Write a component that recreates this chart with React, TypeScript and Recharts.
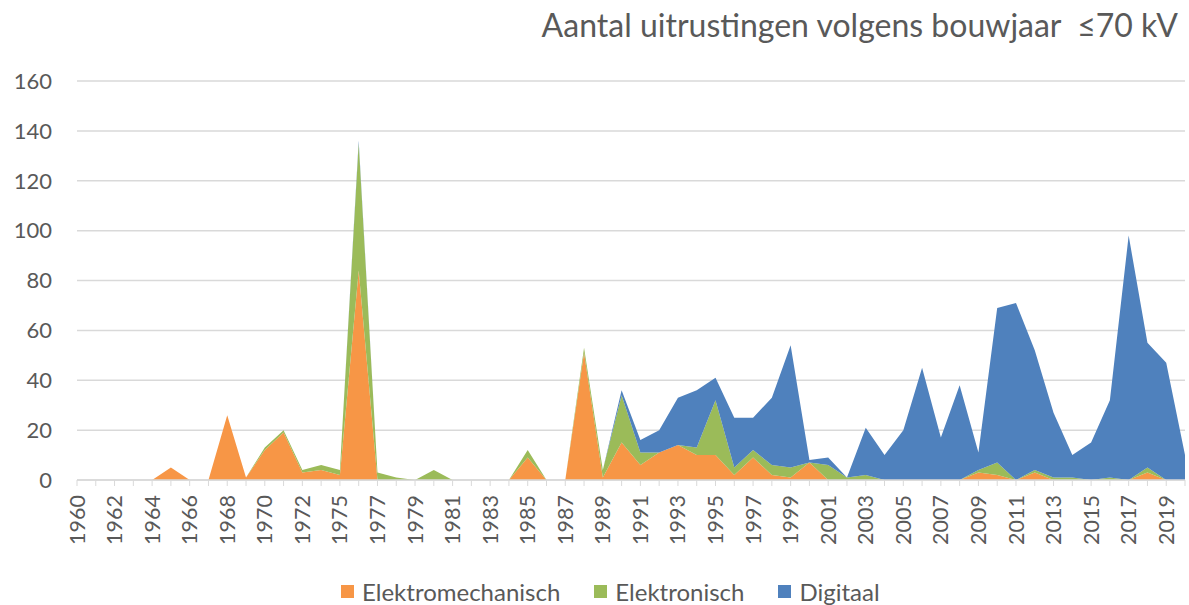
import { Area, AreaChart, CartesianGrid, XAxis, YAxis } from 'recharts'

const years = [
  '1960', '1961', '1962', '1963', '1964', '1965', '1966', '1967', '1968', '1969',
  '1970', '1971', '1972', '1974', '1975', '1976', '1977', '1978', '1979', '1980',
  '1981', '1982', '1983', '1984', '1985', '1986', '1987', '1988', '1989', '1990',
  '1991', '1992', '1993', '1994', '1995', '1996', '1997', '1998', '1999', '2000',
  '2001', '2002', '2003', '2004', '2005', '2006', '2007', '2008', '2009', '2010',
  '2011', '2012', '2013', '2014', '2015', '2016', '2017', '2018', '2019', '2020',
]

const elektromechanisch = [
  0, 0, 0, 0, 0, 5, 0, 0, 26, 1,
  12, 19, 3, 4, 2, 84, 0, 0, 0, 0,
  0, 0, 0, 0, 9, 0, 0, 51, 1, 15,
  6, 11, 14, 10, 10, 2, 9, 2, 1, 7,
  0, 0, 0, 0, 0, 0, 0, 0, 3, 2,
  0, 3, 0, 0, 0, 0, 0, 3, 0, 0,
]

const elektronisch = [
  0, 0, 0, 0, 0, 0, 0, 0, 0, 0,
  1, 1, 1, 2, 2, 51, 3, 1, 0, 4,
  0, 0, 0, 0, 3, 0, 0, 2, 3, 19,
  5, 0, 0, 3, 22, 3, 3, 4, 4, 0,
  6, 1, 2, 0, 0, 0, 0, 0, 1, 5,
  0, 1, 1, 1, 0, 1, 0, 2, 0, 0,
]

const digitaal = [
  0, 0, 0, 0, 0, 0, 0, 0, 0, 0,
  0, 0, 0, 0, 0, 1, 0, 0, 0, 0,
  0, 0, 0, 0, 0, 0, 0, 0, 0, 2,
  5, 9, 19, 23, 9, 20, 13, 27, 49, 1,
  3, 0, 19, 10, 20, 45, 17, 38, 7, 62,
  71, 48, 26, 9, 15, 31, 98, 50, 47, 10,
]

const yTicks = [0, 20, 40, 60, 80, 100, 120, 140, 160]

const series = [
  { key: 'elektromechanisch', name: 'Elektromechanisch', color: '#F79646' },
  { key: 'elektronisch', name: 'Elektronisch', color: '#9BBB59' },
  { key: 'digitaal', name: 'Digitaal', color: '#4F81BD' },
]

const data = years.map((year, i) => ({
  year,
  elektromechanisch: elektromechanisch[i],
  elektronisch: elektronisch[i],
  digitaal: digitaal[i],
}))

const font = 'Lato, "Open Sans", sans-serif'
const textColor = '#595959'
const gridColor = '#d9d9d9'

// only every other year gets a label, but every year gets a tick mark
const YearTick = (props: any) => {
  const { x, y, payload, index } = props
  if (index % 2 !== 0) return null
  return (
    <g transform={`translate(${x},${y})`}>
      <text
        x={-7}
        y={0}
        dy="0.35em"
        textAnchor="end"
        transform="rotate(-90)"
        fill={textColor}
        fontSize={21.5}
        fontFamily={font}
      >
        {payload.value}
      </text>
    </g>
  )
}

export default function App() {
  return (
    <div
      style={{
        position: 'absolute',
        top: 0,
        left: 0,
        width: 1189,
        height: 605,
        background: '#fff',
        fontFamily: font,
      }}
    >
      <div
        style={{
          position: 'absolute',
          top: 5,
          right: 11,
          fontSize: 32,
          color: textColor,
          whiteSpace: 'pre',
        }}
      >
        Aantal uitrustingen volgens bouwjaar  ≤70 kV
      </div>

      <AreaChart
        width={1189}
        height={575}
        data={data}
        margin={{ top: 81, right: 4, left: 0, bottom: 0 }}
      >
        <CartesianGrid vertical={false} stroke={gridColor} strokeWidth={1.5} />
        <XAxis
          dataKey="year"
          interval={0}
          height={95}
          tick={<YearTick />}
          tickSize={6}
          tickMargin={2}
          stroke={gridColor}
          tickLine={{ stroke: gridColor }}
          axisLine={{ stroke: gridColor, strokeWidth: 1.5 }}
        />
        <YAxis
          width={77}
          domain={[0, 160]}
          ticks={yTicks}
          axisLine={false}
          tickLine={false}
          tickSize={0}
          tickMargin={25}
          tick={{ fill: textColor, fontSize: 22, fontFamily: font }}
        />
        {series.map((s) => (
          <Area
            key={s.key}
            type="linear"
            dataKey={s.key}
            name={s.name}
            stackId="1"
            stroke="none"
            fill={s.color}
            fillOpacity={1}
            isAnimationActive={false}
          />
        ))}
      </AreaChart>

      <div
        style={{
          position: 'absolute',
          top: 577,
          left: 341,
          display: 'flex',
          alignItems: 'center',
          fontSize: 24,
          color: textColor,
        }}
      >
        {series.map((s) => (
          <div
            key={s.key}
            style={{ display: 'flex', alignItems: 'center', marginRight: 34 }}
          >
            <span
              style={{
                display: 'inline-block',
                width: 13,
                height: 13,
                background: s.color,
                marginRight: 8,
              }}
            />
            <span>{s.name}</span>
          </div>
        ))}
      </div>
    </div>
  )
}
